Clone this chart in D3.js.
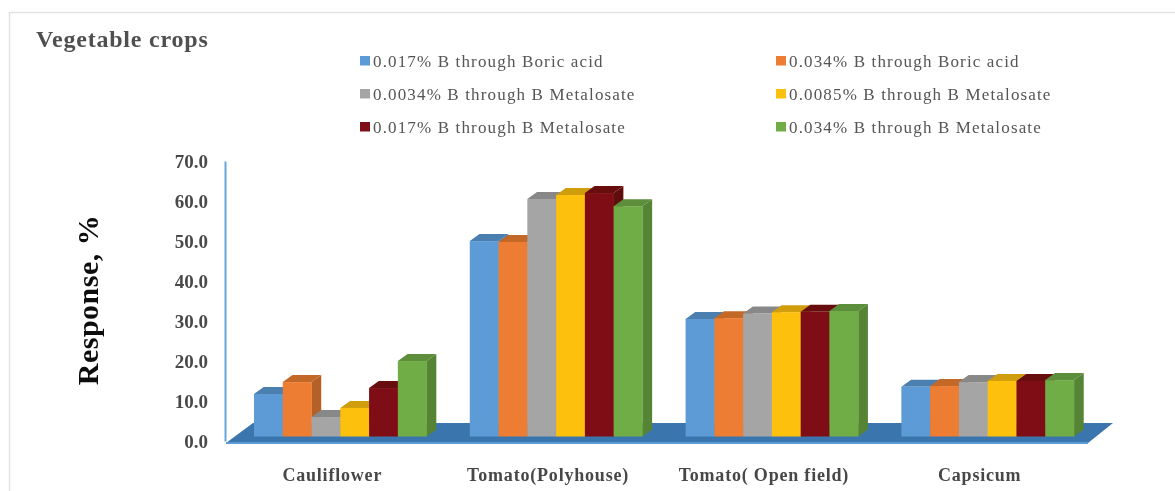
<!DOCTYPE html>
<html><head><meta charset="utf-8">
<script src="https://cdn.jsdelivr.net/npm/d3@7"></script>
<style>html,body{margin:0;background:#fff}svg{display:block}text{font-family:"Liberation Serif",serif}</style>
</head><body><div id="c"></div>
<script>
const categories=["Cauliflower","Tomato(Polyhouse)","Tomato( Open field)","Capsicum"];
const seriesNames=["0.017% B through Boric acid","0.034% B through Boric acid","0.0034% B through B Metalosate","0.0085% B through B Metalosate","0.017% B through B Metalosate","0.034% B through B Metalosate"];
const s1=[10.7,49.2,29.6,12.5];
const s2=[13.7,49.0,29.8,12.7];
const s3=[4.9,59.8,31.0,13.7];
const s4=[7.2,60.8,31.3,14.0];
const s5=[12.2,61.3,31.4,14.0];
const s6=[19.0,58.0,31.6,14.2];
const seriesValues=[s1,s2,s3,s4,s5,s6];
const colors=["#5b9bd5","#ed7d31","#a5a5a5","#fdc010","#7f1014","#70ad47"];
const yTicks=[0,10,20,30,40,50,60,70];

const W=1175,H=491;
const svg=d3.select("#c").append("svg").attr("width",W).attr("height",H);
const defs=svg.append("defs");
defs.append("filter").attr("id","soft").append("feGaussianBlur").attr("stdDeviation",0.55);
const root=svg.append("g").attr("filter","url(#soft)");

// frame
root.append("path").attr("d","M9.5,491V12.5H1175").attr("fill","none").attr("stroke","#e2e2e2").attr("stroke-width",1.5);

const y=d3.scaleLinear().domain([0,70]).range([436.5,158.5]);
const axisY=d3.scaleLinear().domain([0,70]).range([441,161]);
const x0=d3.scaleBand().domain(categories).range([232.4,1095.6]).paddingInner(0.2).paddingOuter(0.1);
const x1=d3.scaleBand().domain(seriesNames).range([0,x0.bandwidth()]);
const dx=9.7,dy=7;

// floor
const floor=[[226,443],[1088,443],[1113,423],[253,423]];
root.append("polygon").attr("points",floor.join(" ")).attr("fill","#3a75ad");
root.append("line").attr("x1",226).attr("x2",1088).attr("y1",443).attr("y2",443).attr("stroke","#5b9bd5").attr("stroke-width",2);

// y axis line + ticks
const axisG=root.append("g").attr("transform","translate(225,0)");
axisG.call(d3.axisLeft(axisY).tickValues(yTicks).tickSize(0).tickPadding(17).tickFormat(d3.format(".1f")));
axisG.select(".domain").attr("stroke","#66a5dc").attr("stroke-width",2);
axisG.selectAll("text").attr("font-family","Liberation Serif").attr("font-size",19).attr("font-weight","bold").attr("fill","#4a4a4a");

// bars
const darkSide=c=>d3.color(c).darker(0.75).formatHex();
const darkTop=c=>d3.color(c).darker(0.55).formatHex();
categories.forEach((cat,i)=>{
  const g=root.append("g");
  seriesNames.forEach((name,k)=>{
    const v=seriesValues[k][i];
    const xl=x0(cat)+x1(name), w=x1.bandwidth(), yt=y(v), yb=y(0);
    const c=colors[k];
    g.append("polygon").attr("points",[[xl,yt],[xl+dx,yt-dy],[xl+w+dx,yt-dy],[xl+w,yt]].join(" ")).attr("fill",darkTop(c));
    g.append("polygon").attr("points",[[xl+w,yt],[xl+w+dx,yt-dy],[xl+w+dx,yb-dy],[xl+w,yb]].join(" ")).attr("fill",darkSide(c));
    g.append("rect").attr("x",xl).attr("y",yt).attr("width",w+0.3).attr("height",yb-yt).attr("fill",c);
  });
  root.append("text").attr("x",x0(cat)+x0.bandwidth()/2-8).attr("y",481)
    .attr("text-anchor","middle").attr("font-size",18).attr("font-weight","bold").attr("fill","#474747")
    .attr("letter-spacing",0.8).text(cat);
});

// titles
root.append("text").attr("x",36).attr("y",47).attr("font-size",24).attr("font-weight","bold").attr("fill","#505050").attr("letter-spacing",0.8).text("Vegetable crops");
root.append("text").attr("transform","translate(98,300) rotate(-90)").attr("text-anchor","middle").attr("font-size",30).attr("font-weight","bold").attr("fill","#111").attr("letter-spacing",0.5).text("Response, %");

// legend
const lx=d3.scaleOrdinal().domain([0,1]).range([360,776]);
const ly=d3.scalePoint().domain([0,1,2]).range([61,127]);
seriesNames.forEach((name,k)=>{
  const col=k%2,row=Math.floor(k/2);
  root.append("rect").attr("x",lx(col)).attr("y",ly(row)-5).attr("width",10).attr("height",9.5).attr("fill",colors[k]);
  root.append("text").attr("x",lx(col)+13).attr("y",ly(row)+5.5).attr("font-size",17).attr("fill","#555").attr("letter-spacing",1.15).text(name);
});
</script></body></html>
